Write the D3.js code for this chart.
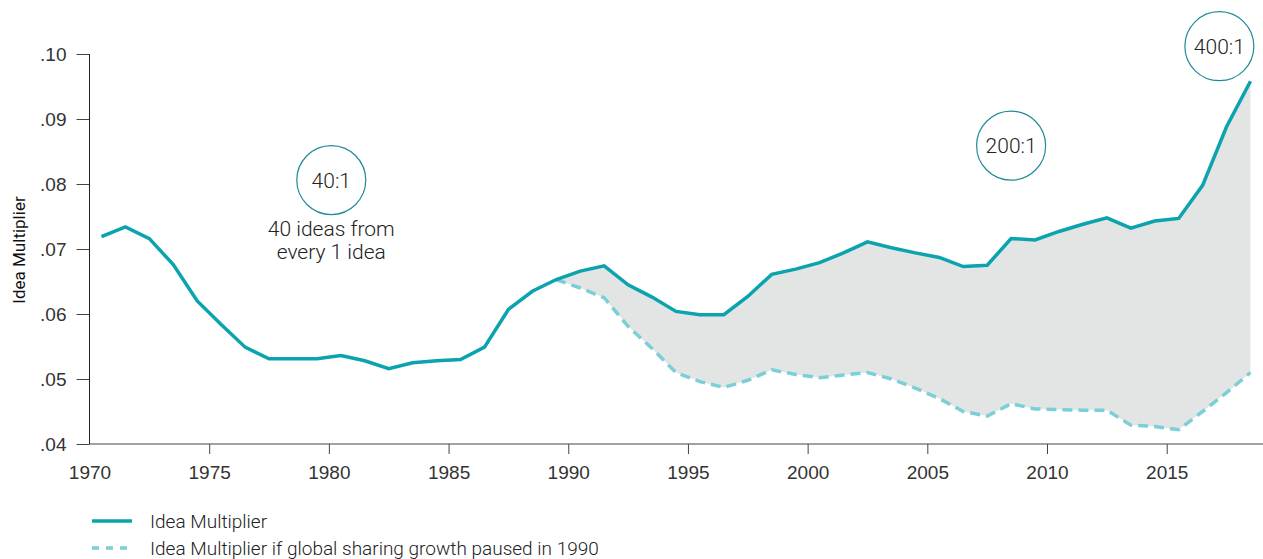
<!DOCTYPE html>
<html>

<head>
    <meta charset="utf-8">
    <style>
        body {
            margin: 0;
            background: #fff;
        }

        svg {
            font-family: Roboto, 'Liberation Sans', Arial, sans-serif;
            display: block;
        }

        .tick text {
            font-size: 19px;
            font-weight: 300;
            fill: #333;
        }

        .tick line {
            stroke: #444;
        }

        .ylab {
            font-size: 17px;
            fill: #111;
        }

        .legend-text {
            font-size: 19px;
            font-weight: 300;
            fill: #222;
        }

        .callout-text {
            font-size: 21px;
            font-weight: 300;
            fill: #222;
        }
    </style>
</head>

<body>
    <svg width="1263" height="559"></svg>
</body>

<script src="https://d3js.org/d3.v7.min.js"></script>

<script>
    // data
    let years = [1970, 1971, 1972, 1973, 1974, 1975, 1976, 1977, 1978, 1979,
        1980, 1981, 1982, 1983, 1984, 1985, 1986, 1987, 1988, 1989,
        1990, 1991, 1992, 1993, 1994, 1995, 1996, 1997, 1998, 1999,
        2000, 2001, 2002, 2003, 2004, 2005, 2006, 2007, 2008, 2009,
        2010, 2011, 2012, 2013, 2014, 2015, 2016, 2017, 2018]

    let ideaMultiplier = [.0719, .0734, .0716, .0676, .0620, .0584, .0549, .0531, .0531, .0531,
        .0536, .0528, .0516, .0525, .0528, .0530, .0549, .0607, .0635, .0653,
        .0666, .0674, .0645, .0626, .0604, .0599, .0599, .0627, .0661, .0669,
        .0679, .0694, .0711, .0702, .0694, .0687, .0673, .0675, .0716, .0714,
        .0727, .0738, .0748, .0732, .0743, .0747, .0798, .0888, .0958]

    // counterfactual starts in 1989
    let pausedYears = [1989, 1990, 1991, 1992, 1993, 1994, 1995, 1996, 1997, 1998, 1999,
        2000, 2001, 2002, 2003, 2004, 2005, 2006, 2007, 2008, 2009,
        2010, 2011, 2012, 2013, 2014, 2015, 2016, 2017, 2018]

    let pausedMultiplier = [.0653, .0640, .0625, .0581, .0547, .0510, .0496, .0487, .0498, .0514, .0507,
        .0502, .0506, .0510, .0500, .0486, .0470, .0450, .0443, .0462, .0454,
        .0453, .0452, .0452, .0429, .0427, .0422, .0450, .0479, .0510]

    let xTicks = [1970, 1975, 1980, 1985, 1990, 1995, 2000, 2005, 2010, 2015]
    let yTicks = [.04, .05, .06, .07, .08, .09, .10]

    let callouts = ["40:1", "200:1", "400:1"]
    let calloutYears = [1980.1, 2008.5, 2017.2]
    let calloutValues = [.0806, .0859, .1012]

    let legendLabels = ["Idea Multiplier", "Idea Multiplier if global sharing growth paused in 1990"]

    let solidColor = "#0aa3ae"
    let dashColor = "#7bcfd6"
    let shadeColor = "#e3e5e4"

    let svg = d3.select("svg")

    let x = d3.scaleLinear()
        .domain([1970, 2015])
        .range([89.5, 1166.7])

    let y = d3.scaleLinear()
        .domain([.04, .10])
        .range([444, 54])

    // points are plotted mid-year
    let px = yr => x(yr + 0.5)

    let main = years.map((yr, i) => ({ year: yr, value: ideaMultiplier[i] }))
    let paused = pausedYears.map((yr, i) => ({ year: yr, value: pausedMultiplier[i] }))
    let gap = pausedYears.map((yr, i) => ({
        year: yr,
        lo: pausedMultiplier[i],
        hi: ideaMultiplier[years.indexOf(yr)]
    }))

    // shaded gap
    let area = d3.area()
        .x(d => px(d.year))
        .y0(d => y(d.lo))
        .y1(d => y(d.hi))

    svg.append("path")
        .datum(gap)
        .attr("fill", shadeColor)
        .attr("d", area)

    // axes
    let yAxis = svg.append("g")
        .attr("class", "y axis")
        .attr("transform", `translate(${x(1970)},0)`)
        .call(d3.axisLeft(y)
            .tickValues(yTicks)
            .tickSize(13)
            .tickPadding(10)
            .tickFormat(d => d3.format(".2f")(d).replace(/^0/, "")))
        .call(g => g.select(".domain").remove())

    let xAxis = svg.append("g")
        .attr("class", "x axis")
        .attr("transform", `translate(0,${y(.04)})`)
        .call(d3.axisBottom(x)
            .tickValues(xTicks)
            .tickSize(10)
            .tickPadding(12)
            .tickFormat(d3.format("d")))
        .call(g => g.select(".domain").remove())

    xAxis.select(".tick line").remove()   // 1970 sits on the y axis

    svg.append("line")
        .attr("x1", x(1970)).attr("x2", x(2019.3))
        .attr("y1", y(.04)).attr("y2", y(.04))
        .attr("stroke", "#444")

    svg.append("line")
        .attr("x1", x(1970)).attr("x2", x(1970))
        .attr("y1", y(.10)).attr("y2", y(.04))
        .attr("stroke", "#222")

    svg.append("text")
        .attr("class", "ylab")
        .attr("transform", `translate(25, ${(y(.10) + y(.04)) / 2 + 1}) rotate(-90)`)
        .attr("text-anchor", "middle")
        .text("Idea Multiplier")

    // lines
    let line = d3.line()
        .x(d => px(d.year))
        .y(d => y(d.value))

    svg.append("path")
        .datum(paused)
        .attr("fill", "none")
        .attr("stroke", dashColor)
        .attr("stroke-width", 3.5)
        .attr("stroke-dasharray", "10,6")
        .attr("d", line)

    svg.append("path")
        .datum(main)
        .attr("fill", "none")
        .attr("stroke", solidColor)
        .attr("stroke-width", 3.5)
        .attr("stroke-linejoin", "miter")
        .attr("d", line)

    // callout circles
    let bubbles = svg.selectAll(".callout")
        .data(callouts)
        .join("g")
        .attr("class", "callout")
        .attr("transform", (d, i) => `translate(${x(calloutYears[i])},${y(calloutValues[i])})`)

    bubbles.append("circle")
        .attr("r", 34.5)
        .attr("fill", "white")
        .attr("stroke", "#1f8b98")
        .attr("stroke-width", 1.2)

    bubbles.append("text")
        .attr("class", "callout-text")
        .attr("text-anchor", "middle")
        .attr("dy", "0.36em")
        .text(d => d)

    let note = svg.append("text")
        .attr("class", "callout-text")
        .attr("text-anchor", "middle")
        .attr("x", x(calloutYears[0]))
        .attr("y", y(calloutValues[0]) + 56)

    note.append("tspan").attr("x", x(calloutYears[0])).text("40 ideas from")
    note.append("tspan").attr("x", x(calloutYears[0])).attr("dy", 22.5).text("every 1 idea")

    // legend
    let legend = svg.selectAll(".legend")
        .data(legendLabels)
        .join("g")
        .attr("class", "legend")
        .attr("transform", (d, i) => `translate(92, ${521 + i * 27})`)

    legend.append("line")
        .attr("x1", 0).attr("x2", 40)
        .attr("stroke", (d, i) => i == 0 ? solidColor : dashColor)
        .attr("stroke-width", 3.5)
        .attr("stroke-dasharray", (d, i) => i == 0 ? null : "7,7")

    legend.append("text")
        .attr("class", "legend-text")
        .attr("x", 58)
        .attr("dy", "0.35em")
        .text(d => d)
</script>

</html>
